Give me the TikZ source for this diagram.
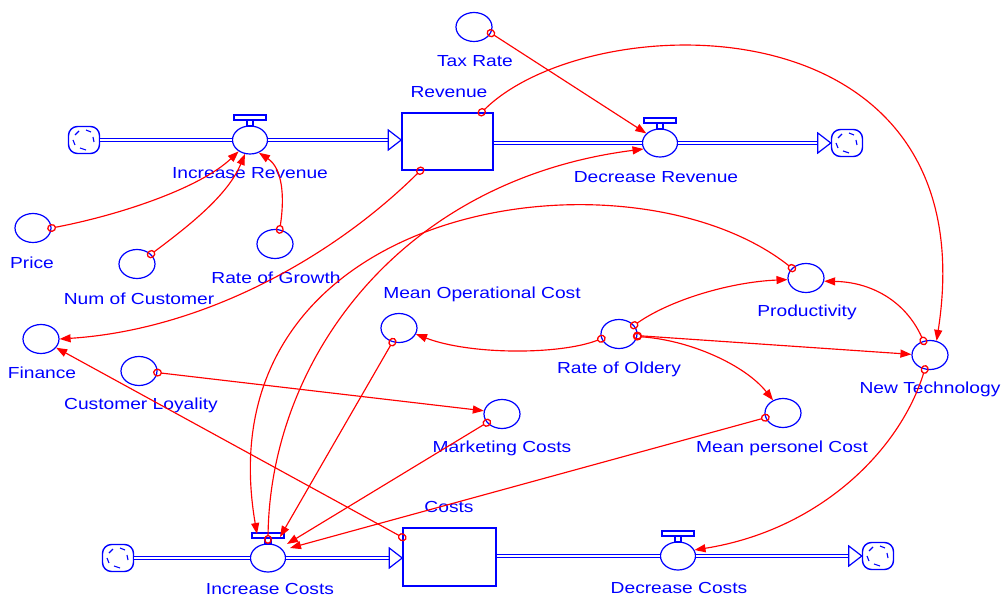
\documentclass[tikz,border=0pt]{standalone}
\usepackage{fontspec}
\setmainfont{Liberation Sans}[FakeStretch=1.2]
\usetikzlibrary{arrows.meta,shapes.geometric}

\definecolor{vblue}{RGB}{0,0,255}
\definecolor{vred}{RGB}{255,0,0}

\tikzset{
  aux/.style={ellipse, draw=vblue, line width=1.2pt, minimum width=36pt,
    minimum height=29pt, inner sep=0pt},
  valve/.style={ellipse, draw=vblue, line width=1.2pt, fill=white,
    minimum width=35pt, minimum height=28pt, inner sep=0pt},
  handle/.style={draw=vblue, line width=1.1pt, fill=white},
  stock/.style={rectangle, draw=vblue, line width=1.5pt, inner sep=0pt},
  cloud/.style={rectangle, rounded corners=9pt, draw=vblue, line width=1.4pt,
    minimum width=31pt, minimum height=27pt, inner sep=0pt,
    path picture={
      \draw[vblue, line width=1.1pt, sharp corners]
        ([shift={(-9,-5)}]path picture bounding box.center) -- ++(4,-4)
        ([shift={(2,-10)}]path picture bounding box.center) -- ++(5,2)
        ([shift={(9,-3)}]path picture bounding box.center) -- ++(1,5)
        ([shift={(-4,8)}]path picture bounding box.center) -- ++(6,2)
        ([shift={(-11,0)}]path picture bounding box.center) -- ++(2,5);
    }},
  lbl/.style={text=vblue, font=\fontsize{16}{16}\selectfont, inner sep=0pt,
    text height=11.5pt, text depth=0pt},
  pipe/.style={draw=vblue, line width=1.2pt, double=white, double distance=2.2pt},
  pipetip/.style={draw=vblue, line width=1.2pt, fill=white, line join=miter},
  conn/.style={draw=vred, line width=1.15pt,
    {Circle[open,length=9pt,width=8pt,line width=1.3pt]}-{Triangle[length=11pt,width=8pt]},
    shorten <=-4.5pt}
}

\begin{document}
\begin{tikzpicture}[x=1pt, y=-1pt]
\useasboundingbox (0,0) rectangle (1002,596);

% ---------- revenue flow ----------
\node[cloud] (srcR) at (84,140) {};
\node[valve] (increv) at (250,140) {};
\node[stock, minimum width=91pt, minimum height=57pt] (revenue) at (447.5,141.5) {};
\node[valve] (decrev) at (660,143) {};
\node[cloud] (sinkR) at (847,143) {};

\draw[pipe] (srcR) -- (increv);
\draw[pipe, shorten >=12pt] (increv) -- (increv -| revenue.west);
\draw[pipetip] (increv -| revenue.west) -- ++(-13,-10) -- ++(0,20) -- cycle;
\draw[pipe] (revenue.east |- decrev) -- (decrev);
\draw[pipe, shorten >=12pt] (decrev) -- (sinkR);
\draw[pipetip] (sinkR.west) -- ++(-13,-10) -- ++(0,20) -- cycle;

% ---------- cost flow ----------
\node[cloud] (srcC) at (118,558) {};
\node[valve] (inccost) at (268,558) {};
\node[stock, minimum width=93pt, minimum height=58pt] (costs) at (449.5,557) {};
\node[valve] (deccost) at (678,556) {};
\node[cloud] (sinkC) at (878,556) {};

\draw[pipe] (srcC) -- (inccost);
\draw[pipe, shorten >=12pt] (inccost) -- (inccost -| costs.west);
\draw[pipetip] (inccost -| costs.west) -- ++(-13,-10) -- ++(0,20) -- cycle;
\draw[pipe] (costs.east |- deccost) -- (deccost);
\draw[pipe, shorten >=12pt] (deccost) -- (sinkC);
\draw[pipetip] (sinkC.west) -- ++(-13,-10) -- ++(0,20) -- cycle;

% valve handles
\foreach \v in {increv,decrev,inccost,deccost} {
  \draw[handle] ([shift={(-16,-25)}]\v.center) rectangle ([shift={(16,-20)}]\v.center);
  \draw[handle] ([shift={(-3,-20)}]\v.center) rectangle ([shift={(3,-14)}]\v.center);
}

% ---------- auxiliaries ----------
\node[aux] (taxrate) at (474,27) {};
\node[aux] (price) at (33,228) {};
\node[aux] (numc) at (137,264) {};
\node[aux] (growth) at (275,244) {};
\node[aux] (finance) at (41,339) {};
\node[aux] (loyal) at (139,371) {};
\node[aux] (meanop) at (399,328) {};
\node[aux] (market) at (502,414) {};
\node[aux] (oldery) at (619,334) {};
\node[aux] (prod) at (806,278) {};
\node[aux] (newtech) at (930,355) {};
\node[aux] (meanpers) at (783,413) {};

% ---------- labels ----------
\node[lbl] (lincrev) at (250,173) {Increase Revenue};
\node[lbl] (lrevenue) at (449,91.5) {Revenue};
\node[lbl] (ltax) at (475,61) {Tax Rate};
\node[lbl] (ldecrev) at (656,176.5) {Decrease Revenue};
\node[lbl] (lprice) at (32,262.5) {Price};
\node[lbl] (lnumc) at (139,299) {Num of Customer};
\node[lbl] (lgrowth) at (276,278) {Rate of Growth};
\node[lbl] (lfinance) at (42,373) {Finance};
\node[lbl] (lloyal) at (141,404) {Customer Loyality};
\node[lbl] (lmeanop) at (482,292.5) {Mean Operational Cost};
\node[lbl] (lmarket) at (502,447) {Marketing Costs};
\node[lbl] (loldery) at (619,368) {Rate of Oldery};
\node[lbl] (lprod) at (807,310.5) {Productivity};
\node[lbl] (lnewtech) at (930,387.5) {New Technology};
\node[lbl] (lmeanpers) at (782,447) {Mean personel Cost};
\node[lbl] (lcosts) at (449,506.5) {Costs};
\node[lbl] (linccost) at (270,588.5) {Increase Costs};
\node[lbl] (ldeccost) at (679,587.5) {Decrease Costs};

% ---------- causal links ----------
\draw[conn] (price.east) .. controls (120,215) and (200,188) .. (increv.-135);
\draw[conn] (numc.35) .. controls (190,225) and (228,195) .. (increv.-110);
\draw[conn] (growth.72) .. controls (285,195) and (282,168) .. (increv.-55);
\draw[conn] (taxrate.-20) -- (decrev.145);
\draw[conn] ([xshift=-12pt]revenue.north east) .. controls (590,5) and (990,-5) .. (newtech.65);
\draw[conn] ([xshift=19pt]revenue.south west) .. controls (330,260) and (200,330) .. (finance.east);
\draw[conn] ([yshift=-10pt]costs.north west) -- (finance.-30);
\draw[conn] ([yshift=4pt]inccost.north) .. controls (270,360) and (400,180) .. (decrev.-160);
\draw[conn] (prod.145) .. controls (630,140) and (200,200) .. ([shift={(-11,-24)}]inccost.center);
\draw[conn] (meanop.-115) -- ([shift={(12,-21)}]inccost.center);
\draw[conn] (market.-150) -- ([shift={(19,-14)}]inccost.center);
\draw[conn] (meanpers.-165) -- ([shift={(22,-10)}]inccost.center);
\draw[conn] (loyal.-5) -- (market.170);
\draw[conn] (oldery.-165) .. controls (560,355) and (470,355) .. (meanop.-20);
\draw[conn] (oldery.30) .. controls (670,300) and (730,282) .. (prod.-175);
\draw[conn] (oldery.-5) -- (newtech.178);
\draw[conn] (oldery.-8) .. controls (690,340) and (745,365) .. (meanpers.128);
\draw[conn] (newtech.115) .. controls (905,300) and (870,282) .. (prod.-10);
\draw[conn] (newtech.-110) .. controls (900,450) and (820,530) .. (deccost.20);
\end{tikzpicture}
\end{document}
